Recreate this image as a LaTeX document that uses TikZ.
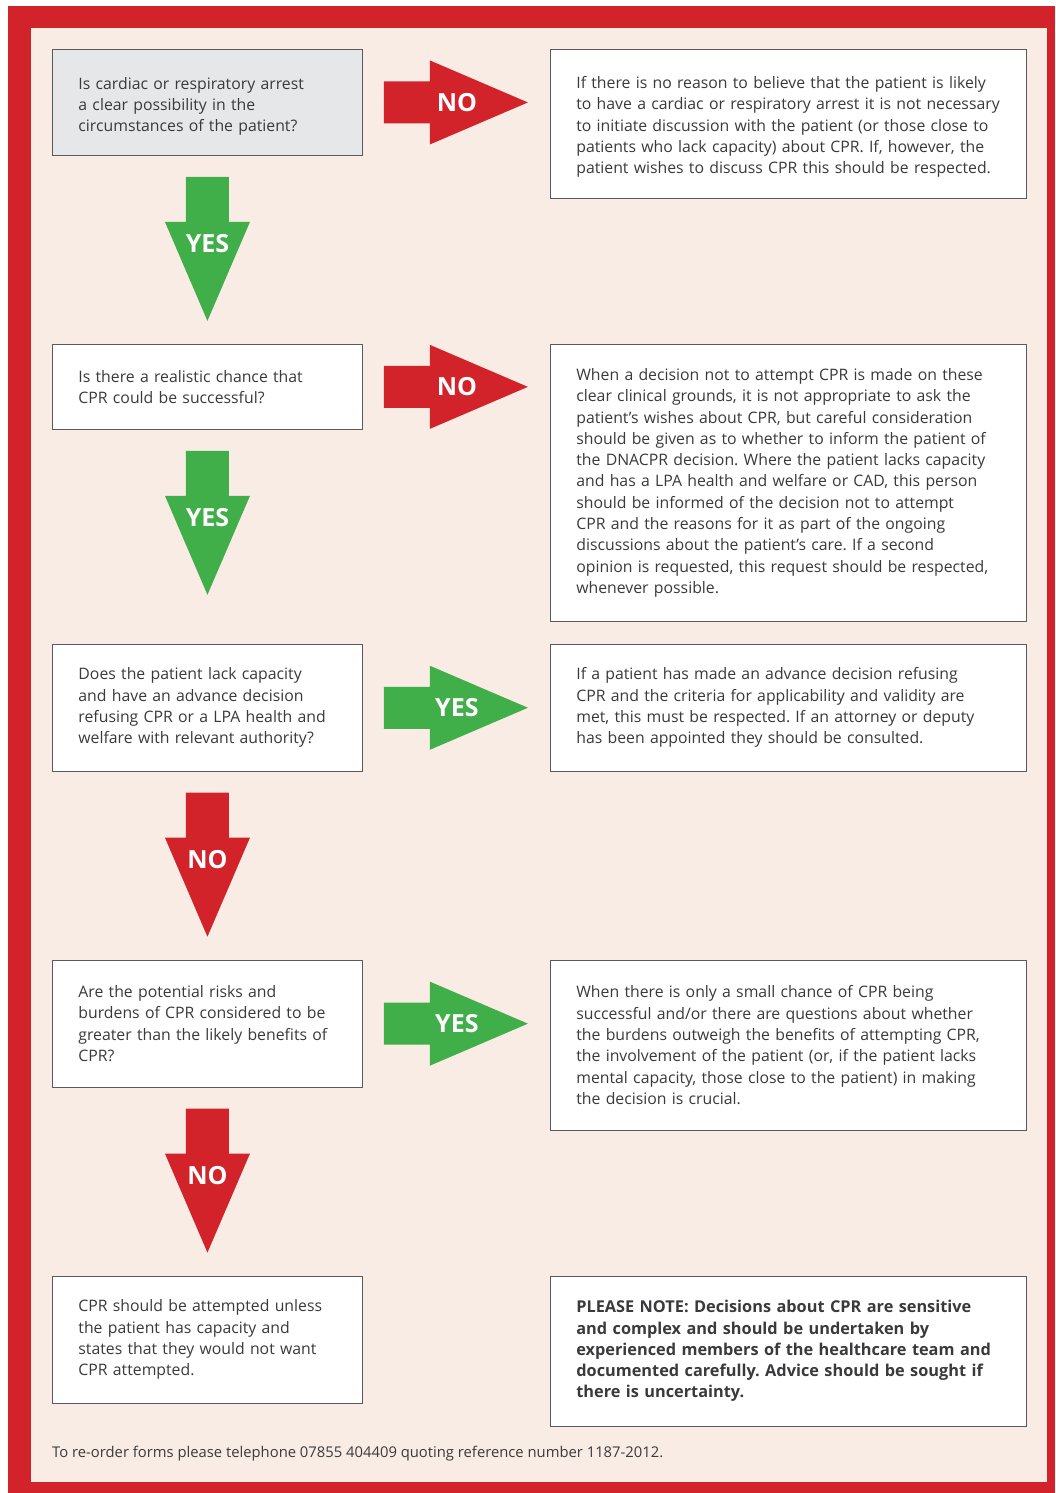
\documentclass[tikz,border=0pt]{standalone}
\usepackage{fontspec}
\setmainfont{Open Sans}
\usetikzlibrary{positioning, calc}

\definecolor{nhsred}{HTML}{D2232A}
\definecolor{nhsgreen}{HTML}{40AE49}
\definecolor{paper}{HTML}{F9ECE4}
\definecolor{qgray}{HTML}{E6E7E8}
\definecolor{boxline}{HTML}{5A5A5C}
\definecolor{ink}{HTML}{3A3A3C}

\tikzset{
  qbox/.style={draw=boxline, fill=white, line width=0.9pt, anchor=north west,
    text width=258pt, inner xsep=26pt, inner ysep=0pt, align=left,
    text=ink, font=\fontsize{15.8}{21.3}\selectfont,
    execute at begin node={\frenchspacing\hyphenpenalty=10000\exhyphenpenalty=10000}},
  abox/.style={qbox, text width=424pt},
  arrowtext/.style={text=white, font=\fontsize{25}{25}\selectfont\bfseries, inner sep=0pt},
  footer/.style={text=ink, anchor=west, inner sep=0pt, font=\fontsize{14.8}{19}\selectfont}
}

% fat arrow pointing down, hanging below a box
\newcommand{\flowdown}[4]{%
  \fill[#2] ($(#1.south)+(-21.5,-21)$) -- ++(43,0) -- ++(0,-45) -- ++(21,0)
    -- ($(#1.south)+(0,-165)$) -- ($(#1.south)+(-42.5,-66)$) -- ++(21,0) -- cycle;
  \node[arrowtext] (#4) at ($(#1.south)+(0,-88)$) {#3};
}
% fat arrow pointing right, from a question to its answer
\newcommand{\flowright}[5]{%
  \fill[#3] ($(#1.east)+(21,21)$) -- ++(46,0) -- ++(0,21)
    -- ($(#2.west |- #1.east)+(-22,0)$) -- ($(#1.east)+(67,-42)$) -- ++(0,21)
    -- ($(#1.east)+(21,-21)$) -- cycle;
  \node[arrowtext] (#5) at ($(#1.east)+(94,0)$) {#4};
}

\begin{document}
\begin{tikzpicture}[x=1pt, y=1pt]
    % Page and frame
    \useasboundingbox (0,0) rectangle (1055,-1493);
    \fill[white] (0,0) rectangle (1055,-1493);
    \fill[nhsred] (8,-6) rectangle (1055,-1493);
    \fill[paper] (31,-28) rectangle (1047,-1482);

    % Questions
    \node[qbox, fill=qgray, minimum height=106pt] (q1) at (52,-49)
      {\rule{0pt}{20pt}Is cardiac or respiratory arrest\\a clear possibility in the\\circumstances of the patient?};
    \node[qbox, minimum height=85pt] (q2) at ([yshift=-188pt]q1.south west)
      {Is there a realistic chance that\\CPR could be successful?};
    \node[qbox, minimum height=127pt] (q3) at ([yshift=-214pt]q2.south west)
      {Does the patient lack capacity\\and have an advance decision\\refusing CPR or a LPA health and\\welfare with relevant authority?};
    \node[qbox, minimum height=127pt] (q4) at ([yshift=-188pt]q3.south west)
      {Are the potential risks and\\burdens of CPR considered to be\\greater than the likely benefits of\\CPR?};
    \node[qbox, minimum height=127pt] (q5) at ([yshift=-188pt]q4.south west)
      {CPR should be attempted unless\\the patient has capacity and\\states that they would not want\\CPR attempted.};

    % Answers
    \node[abox, minimum height=149pt] (a1) at ([xshift=187pt]q1.north east)
      {\rule{0pt}{18pt}If there is no reason to believe that the patient is likely\\to have a cardiac or respiratory arrest it is not necessary\\to initiate discussion with the patient (or those close to\\patients who lack capacity) about CPR. If, however, the\\patient wishes to discuss CPR this should be respected.};
    \node[abox, minimum height=277pt] (a2) at ([xshift=187pt]q2.north east)
      {When a decision not to attempt CPR is made on these\\clear clinical grounds, it is not appropriate to ask the\\patient’s wishes about CPR, but careful consideration\\should be given as to whether to inform the patient of\\the DNACPR decision. Where the patient lacks capacity\\and has a LPA health and welfare or CAD, this person\\should be informed of the decision not to attempt\\CPR and the reasons for it as part of the ongoing\\discussions about the patient’s care. If a second\\opinion is requested, this request should be respected,\\whenever possible.};
    \node[abox, minimum height=127pt] (a3) at ([xshift=187pt]q3.north east)
      {If a patient has made an advance decision refusing\\CPR and the criteria for applicability and validity are\\met, this must be respected. If an attorney or deputy\\has been appointed they should be consulted.};
    \node[abox, minimum height=170pt] (a4) at ([xshift=187pt]q4.north east)
      {When there is only a small chance of CPR being\\successful and/or there are questions about whether\\the burdens outweigh the benefits of attempting CPR,\\the involvement of the patient (or, if the patient lacks\\mental capacity, those close to the patient) in making\\the decision is crucial.};
    \node[abox, minimum height=150pt, font=\fontsize{16.3}{21.3}\selectfont\bfseries] (note) at ([xshift=187pt]q5.north east)
      {PLEASE NOTE: Decisions about CPR are sensitive\\and complex and should be undertaken by\\experienced members of the healthcare team and\\documented carefully. Advice should be sought if\\there is uncertainty.};

    % Arrows
    \flowright{q1}{a1}{nhsred}{NO}{no1}
    \flowdown{q1}{nhsgreen}{YES}{yes1}
    \flowright{q2}{a2}{nhsred}{NO}{no2}
    \flowdown{q2}{nhsgreen}{YES}{yes2}
    \flowright{q3}{a3}{nhsgreen}{YES}{yes3}
    \flowdown{q3}{nhsred}{NO}{no3}
    \flowright{q4}{a4}{nhsgreen}{YES}{yes4}
    \flowdown{q4}{nhsred}{NO}{no4}

    % Footer
    \node[footer] (reorder) at (52,-1454)
      {To re-order forms please telephone 07855 404409 quoting reference number 1187-2012.};
\end{tikzpicture}
\end{document}
